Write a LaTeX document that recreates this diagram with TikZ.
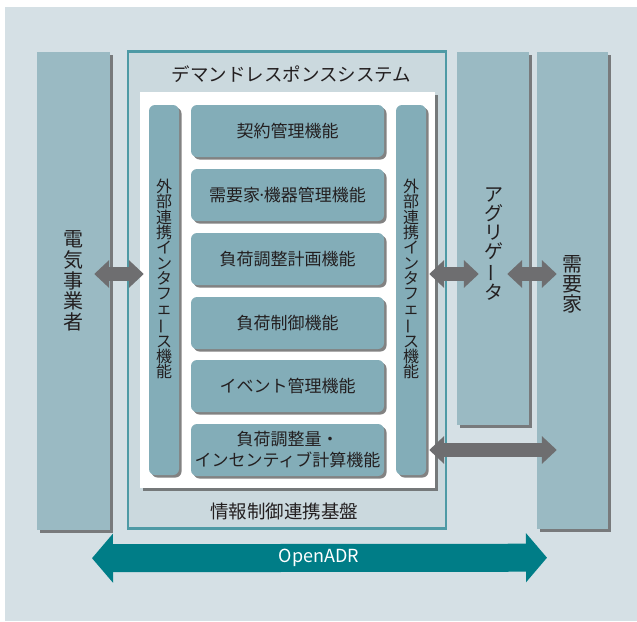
\documentclass[tikz,border=0pt]{standalone}
\usepackage{fontspec}
\setmainfont{Noto Sans CJK JP}
\usetikzlibrary{arrows.meta,shadows,calc}
\definecolor{bgc}{HTML}{D5E0E5}
\definecolor{colc}{HTML}{9ABAC3}
\definecolor{framefill}{HTML}{CBD9DE}
\definecolor{frameline}{HTML}{4E9AA5}
\definecolor{funcc}{HTML}{83ADB8}
\definecolor{arrgray}{HTML}{6E6E70}
\definecolor{teal}{HTML}{007D87}
\definecolor{txt}{HTML}{231F20}
\newcommand{\fs}[2]{\fontsize{#1}{#2}\selectfont}
\newcommand{\vbar}{\rotatebox[origin=c]{90}{ー}}
\tikzset{
  shad/.style={drop shadow={shadow xshift=2.5pt, shadow yshift=-2.5pt, fill=black!65, opacity=0.75}},
  column/.style={fill=colc, draw=none, shad, inner sep=0pt},
  funcbox/.style={fill=funcc, draw=none, rounded corners=6pt, shad, inner sep=0pt,
    minimum width=193pt, minimum height=52pt, text=txt, font=\fs{17}{21}, align=center},
  iface/.style={fill=funcc, draw=none, rounded corners=6pt, shad, inner sep=0pt,
    minimum width=30pt, minimum height=370pt},
  vtxt/.style={text=txt, align=center, inner sep=0pt},
  grayarrow/.style={draw=arrgray, line width=14pt, {Triangle[length=15pt,width=27pt]}-{Triangle[length=15pt,width=27pt]}},
  tealarrow/.style={draw=teal, line width=28pt, {Triangle[length=21pt,width=48pt]}-{Triangle[length=21pt,width=48pt]}}
}
\begin{document}
\begin{tikzpicture}[x=1pt,y=-1pt]
\useasboundingbox (0,0) rectangle (637,621);
\fill[bgc] (5,7) rectangle (637,621);

% outer columns
\node[column, minimum width=73pt, minimum height=478pt] (util) at (73.5,291) {};
\node[column, minimum width=72pt, minimum height=373pt] (agg) at (493,238.5) {};
\node[column, minimum width=71pt, minimum height=477pt] (cust) at (572.5,290.5) {};

\node[vtxt, font=\fs{20}{20.8}] (utilt) at (73.5,281) {電\\気\\事\\業\\者};
\node[vtxt, font=\fs{19}{19}] (aggt) at (494,244) {ア\\グ\\リ\\ゲ\\\vbar\\タ};
\node[vtxt, font=\fs{20}{20}] (custt) at (572,284) {需\\要\\家};

% DR system frame
\node[fill=framefill, draw=frameline, line width=2.4pt, minimum width=318pt, minimum height=477pt, inner sep=0pt] (frame) at (287,290) {};
\node[text=txt, font=\fs{18.5}{20}, inner sep=0pt] (title) at (291.5,74) {デマンドレスポンスシステム};
\node[text=txt, font=\fs{18.5}{20}, inner sep=0pt] (base) at (284,511) {情報制御連携基盤};

% white inner panel
\node[fill=white, draw=none, shad, minimum width=295pt, minimum height=396pt, inner sep=0pt] (panel) at (287.5,290) {};

% interface columns
\node[iface] (ifL) at (164,290) {};
\node[iface] (ifR) at (411,290) {};
\node[vtxt, font=\fs{16}{15.3}] (ifLt) at (164,279) {外\\部\\連\\携\\イ\\ン\\タ\\フ\\ェ\\\vbar\\ス\\機\\能};
\node[vtxt, font=\fs{16}{15.3}] (ifRt) at (411,279) {外\\部\\連\\携\\イ\\ン\\タ\\フ\\ェ\\\vbar\\ス\\機\\能};

% function boxes
\node[funcbox] (f1) at (287.5,131) {契約管理機能};
\node[funcbox] (f2) at (287.5,195) {需要家\kern-3pt·\kern-3pt 機器管理機能};
\node[funcbox] (f3) at (287.5,259) {負荷調整計画機能};
\node[funcbox] (f4) at (287.5,323) {負荷制御機能};
\node[funcbox] (f5) at (287.5,386) {イベント管理機能};
\node[funcbox] (f6) at (287.5,450) {負荷調整量・\\インセンティブ計算機能};

% gray arrows
\coordinate (aL1) at ($(util.east)+(-16,-17)$);
\coordinate (aL2) at ($(ifL.west)+(-5,-16)$);
\draw[grayarrow] (aL1) -- (aL2);
\coordinate (aR1) at ($(ifR.east)+(3,-16)$);
\coordinate (aR2) at ($(agg.west)+(22,35.5)$);
\draw[grayarrow] (aR1) -- (aR2);
\coordinate (aC1) at ($(agg.east)+(-22,35.5)$);
\coordinate (aC2) at ($(cust.west)+(20,-16.5)$);
\draw[grayarrow] (aC1) -- (aC2);
\coordinate (aD1) at ($(ifR.east)+(3,160)$);
\coordinate (aD2) at ($(cust.west)+(20,159.5)$);
\draw[grayarrow] (aD1) -- (aD2);

% OpenADR arrow
\coordinate (o1) at ($(util.south)+(18.5,28)$);
\coordinate (o2) at ($(cust.south)+(-25.5,28.5)$);
\draw[tealarrow] (o1) -- (o2);
\node[text=white, font=\fs{18}{20}, inner sep=0pt] (oadr) at (319,558) {OpenADR};
\end{tikzpicture}
\end{document}
